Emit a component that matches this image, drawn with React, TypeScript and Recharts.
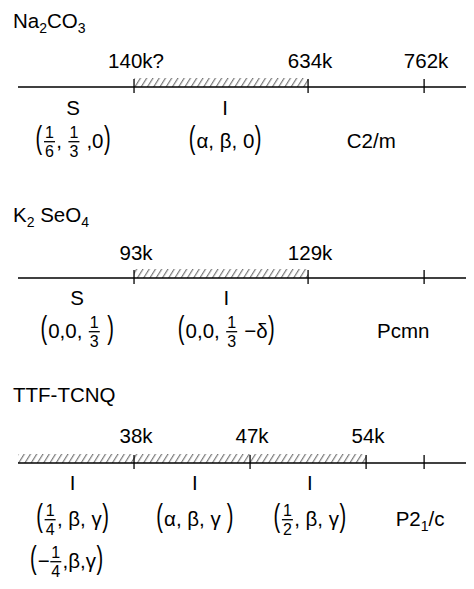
import React from "react";
import { ScatterChart, Scatter, XAxis, YAxis, ReferenceLine, ReferenceArea } from "recharts";

type Frac = [string, string];
type Tok = string | Frac;
type Run = [string, boolean];

// ---------- Na2CO3 ----------
const naTitle: Run[] = [["Na", false], ["2", true], ["CO", false], ["3", true]];
const naTransitions = [
  { pos: 2, label: "140k?" },
  { pos: 5, label: "634k" },
  { pos: 7, label: "762k" },
];
const naHatched: [number, number] = [2, 5];
const naPhases = [
  { pos: 0.95, phase: "S", vectors: [["(", ["1", "6"], ", ", ["1", "3"], " ,0", ")"]] as Tok[][] },
  { pos: 3.57, phase: "I", vectors: [["(", "α, β, 0", ")"]] as Tok[][] },
  { pos: 6.09, phase: "", group: [["C2/m", false]] as Run[] },
];

// ---------- K2SeO4 ----------
const kTitle: Run[] = [["K", false], ["2", true], [" SeO", false], ["4", true]];
const kTransitions = [
  { pos: 2, label: "93k" },
  { pos: 5, label: "129k" },
  { pos: 7, label: "" },
];
const kHatched: [number, number] = [2, 5];
const kPhases = [
  { pos: 1.02, phase: "S", vectors: [["(", "0,0, ", ["1", "3"], " ", ")"]] as Tok[][] },
  { pos: 3.59, phase: "I", vectors: [["(", "0,0, ", ["1", "3"], " −δ", ")"]] as Tok[][] },
  { pos: 6.64, phase: "", group: [["Pcmn", false]] as Run[] },
];

// ---------- TTF-TCNQ ----------
const tTitle: Run[] = [["TTF-TCNQ", false]];
const tTransitions = [
  { pos: 2, label: "38k" },
  { pos: 4, label: "47k" },
  { pos: 6, label: "54k" },
  { pos: 7, label: "" },
];
const tHatched: [number, number] = [0, 6];
const tPhases = [
  {
    pos: 0.94,
    phase: "I",
    vectors: [
      ["(", ["1", "4"], ", β, γ", ")"],
      ["(", "−", ["1", "4"], ",β,γ", ")"],
    ] as Tok[][],
  },
  { pos: 3.05, phase: "I", vectors: [["(", "α, β, γ ", ")"]] as Tok[][] },
  { pos: 5.03, phase: "I", vectors: [["(", ["1", "2"], ", β, γ", ")"]] as Tok[][] },
  { pos: 6.93, phase: "", group: [["P2", false], ["1", true], ["/c", false]] as Run[] },
];

const X_MAX = 7.86;
const FONT = "'Liberation Sans', Arial, Helvetica, sans-serif";
const FS = 20.5;
const FRAC_FS = 16;
const FRAC_W = 13;

const CW: Record<string, number> = {
  "0": 556, "1": 556, "2": 556, "3": 556, "4": 556, "5": 556, "6": 556, "7": 556, "8": 556, "9": 556,
  ",": 278, " ": 278, "(": 333, ")": 333, "−": 584, "-": 333,
  "α": 578, "β": 575, "γ": 500, "δ": 556,
};
const strW = (s: string, fs: number) => ([...s].reduce((a, c) => a + (CW[c] ?? 556), 0) * fs) / 1000;

const isParen = (t: Tok) => t === "(" || t === ")";
const tokW = (t: Tok) => (Array.isArray(t) ? FRAC_W : isParen(t) ? 0.333 * 20 + 1.5 : strW(t, FS));

function Expr({ tokens, cx, y }: { tokens: Tok[]; cx: number; y: number }) {
  const ws = tokens.map(tokW);
  const total = ws.reduce((a, b) => a + b, 0);
  let x = cx - total / 2;
  const out: React.ReactNode[] = [];
  tokens.forEach((t, i) => {
    const w = ws[i];
    if (Array.isArray(t)) {
      const mx = x + w / 2;
      out.push(
        <g key={i}>
          <text x={mx} y={y - 9.8} textAnchor="middle" fontSize={FRAC_FS} fontFamily={FONT} fill="#000">{t[0]}</text>
          <line x1={x + 1} x2={x + w - 1} y1={y - 6.3} y2={y - 6.3} stroke="#000" strokeWidth={1.3} />
          <text x={mx} y={y + 8.6} textAnchor="middle" fontSize={FRAC_FS} fontFamily={FONT} fill="#000">{t[1]}</text>
        </g>
      );
    } else if (isParen(t)) {
      out.push(
        <text
          key={i}
          x={x + w / 2}
          y={y}
          textAnchor="middle"
          fontSize={20}
          fontFamily={FONT}
          fill="#000"
          transform={`translate(0 ${y}) scale(1 1.6) translate(0 ${-y})`}
        >
          {t}
        </text>
      );
    } else {
      out.push(
        <text key={i} x={x + 0.3} y={y} fontSize={FS} fontFamily={FONT} fill="#000" style={{ whiteSpace: "pre" }}>
          {t}
        </text>
      );
    }
    x += w;
  });
  return <g>{out}</g>;
}

function Runs({ runs, x, y, anchor }: { runs: Run[]; x: number; y: number; anchor: "start" | "middle" }) {
  let shift = 0;
  return (
    <text x={x} y={y} textAnchor={anchor} fontSize={FS} fontFamily={FONT} fill="#000" style={{ whiteSpace: "pre" }}>
      {runs.map(([s, sub], i) => {
        const target = sub ? 5 : 0;
        const dy = target - shift;
        shift = target;
        return (
          <tspan key={i} dy={dy} fontSize={sub ? 14 : FS}>
            {s}
          </tspan>
        );
      })}
    </text>
  );
}

type Dims = { title: number; temp: number; letter: number; vec: number; vecGap: number; vec2dx: number };

const tickShape = (dims: Dims) => (p: any) => {
  const { cx, cy, payload } = p;
  return (
    <g>
      <line x1={cx} x2={cx} y1={cy - 8} y2={cy + 6} stroke="#000" strokeWidth={1.3} />
      {payload.label ? (
        <text x={cx + 2} y={cy + dims.temp} textAnchor="middle" fontSize={FS} fontFamily={FONT} fill="#000">
          {payload.label}
        </text>
      ) : null}
    </g>
  );
};

const phaseShape = (dims: Dims) => (p: any) => {
  const { cx, cy, payload } = p;
  return (
    <g>
      {payload.phase ? (
        <text x={cx} y={cy + dims.letter} textAnchor="middle" fontSize={FS} fontFamily={FONT} fill="#000">
          {payload.phase}
        </text>
      ) : null}
      {(payload.vectors || []).map((v: Tok[], i: number) => (
        <Expr key={i} tokens={v} cx={cx + (i ? dims.vec2dx : 0)} y={cy + dims.vec + i * dims.vecGap} />
      ))}
      {payload.group ? <Runs runs={payload.group} x={cx} y={cy + dims.vec} anchor="middle" /> : null}
    </g>
  );
};

function Row({
  id,
  title,
  transitions,
  hatched,
  phases,
  above,
  below,
  dims,
}: {
  id: string;
  title: Run[];
  transitions: { pos: number; label: string }[];
  hatched: [number, number];
  phases: any[];
  above: number;
  below: number;
  dims: Dims;
}) {
  return (
    <ScatterChart width={474} height={above + below} margin={{ top: 0, right: 0, bottom: 0, left: 18 }}>
      <defs>
        <pattern id={id} width={5.3} height={12} patternUnits="userSpaceOnUse" patternTransform="rotate(32)">
          <line x1={1.5} y1={0} x2={1.5} y2={12} stroke="#707070" strokeWidth={1.1} />
        </pattern>
      </defs>
      <XAxis type="number" dataKey="pos" domain={[0, X_MAX]} hide allowDataOverflow />
      <YAxis type="number" dataKey="y" domain={[-below, above]} hide allowDataOverflow />
      <ReferenceArea
        x1={hatched[0]}
        x2={hatched[1]}
        y1={0}
        y2={9}
        fill={`url(#${id})`}
        fillOpacity={1}
        stroke="none"
      />
      <ReferenceLine y={0} stroke="#000" strokeWidth={1.3} />
      <Scatter
        data={transitions.map((d) => ({ ...d, y: 0 }))}
        shape={tickShape(dims)}
        isAnimationActive={false}
      />
      <Scatter data={phases.map((d) => ({ ...d, y: 0 }))} shape={phaseShape(dims)} isAnimationActive={false} />
      <Runs runs={title} x={13} y={above + dims.title} anchor="start" />
    </ScatterChart>
  );
}

export default function App() {
  return (
    <div style={{ margin: -8, width: 474, height: 589, background: "#fff", fontFamily: FONT, overflow: "hidden" }}>
      <Row
        id="hatchNa"
        title={naTitle}
        transitions={naTransitions}
        hatched={naHatched}
        phases={naPhases}
        above={87}
        below={98}
        dims={{ title: -59, temp: -19, letter: 28, vec: 61, vecGap: 41, vec2dx: 0 }}
      />
      <Row
        id="hatchK"
        title={kTitle}
        transitions={kTransitions}
        hatched={kHatched}
        phases={kPhases}
        above={93}
        below={92}
        dims={{ title: -56, temp: -18, letter: 27, vec: 60, vecGap: 41, vec2dx: 0 }}
      />
      <Row
        id="hatchT"
        title={tTitle}
        transitions={tTransitions}
        hatched={tHatched}
        phases={tPhases}
        above={93}
        below={126}
        dims={{ title: -61, temp: -20, letter: 27, vec: 63, vecGap: 42, vec2dx: -6 }}
      />
    </div>
  );
}
